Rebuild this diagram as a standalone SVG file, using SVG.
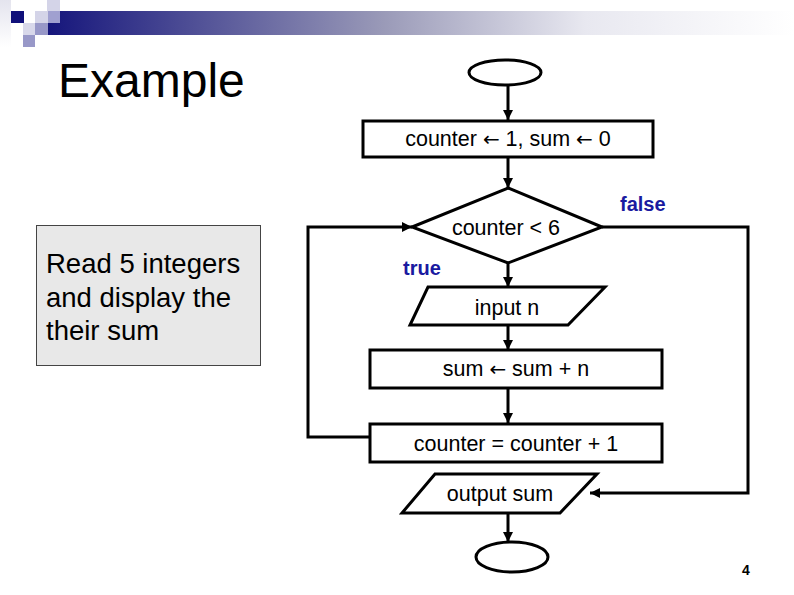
<svg xmlns="http://www.w3.org/2000/svg" width="794" height="595" viewBox="0 0 794 595">
<defs>
<linearGradient id="bar" x1="48" y1="0" x2="794" y2="0" gradientUnits="userSpaceOnUse">
<stop offset="0" stop-color="#16167c"/>
<stop offset="0.45" stop-color="#9a9ab8"/>
<stop offset="0.72" stop-color="#e8e8f0"/>
<stop offset="1" stop-color="#ffffff"/>
</linearGradient>
<linearGradient id="edge" x1="0" y1="0" x2="0" y2="1">
<stop offset="0" stop-color="#e4e4ee"/>
<stop offset="1" stop-color="#ffffff"/>
</linearGradient>
<marker id="ah" viewBox="0 0 10 10" refX="10" refY="5" markerWidth="10" markerHeight="10" markerUnits="userSpaceOnUse" orient="auto">
<path d="M0,0 L10,5 L0,10 z" fill="#000"/>
</marker>
<style>
.shape{fill:#fff;stroke:#000;stroke-width:3}
.ln{fill:none;stroke:#000;stroke-width:3}
.t{font-family:"Liberation Sans",Arial,sans-serif;font-size:21.5px;fill:#000;text-anchor:middle}
.ar{font-family:"DejaVu Sans",sans-serif;font-size:20px}
.lbl{font-family:"Liberation Sans",Arial,sans-serif;font-size:20px;font-weight:bold;fill:#1a1aa0}
</style>
</defs>
<rect width="794" height="595" fill="#fff"/>
<g id="decoration">
<rect x="0" y="0" width="11" height="47" fill="url(#edge)"/>
<rect x="48" y="11" width="746" height="24" fill="url(#bar)"/>
<rect x="47" y="0" width="13" height="11" fill="#d4d4e8"/>
<rect x="11" y="11" width="13" height="12" fill="#10107a"/>
<rect x="35" y="11" width="13" height="12" fill="#d4d4e8"/>
<rect x="48" y="11" width="12" height="12" fill="#a0a0d0"/>
<rect x="23" y="23" width="12" height="12" fill="#d8d8ea"/>
<rect x="35" y="23" width="13" height="12" fill="#9898c8"/>
<rect x="23" y="35" width="12" height="12" fill="#9898c8"/>
</g>
<text x="58" y="97" font-family="Liberation Sans,Arial,sans-serif" font-size="48" fill="#000">Example</text>
<g id="note">
<rect x="36.5" y="225.5" width="224" height="140" fill="#e8e8e8" stroke="#444" stroke-width="1"/>
<text font-family="Liberation Sans,Arial,sans-serif" font-size="27.5" fill="#000"><tspan x="46" y="273">Read 5 integers</tspan><tspan x="46" y="306.5">and display the</tspan><tspan x="46" y="340">their sum</tspan></text>
</g>
<g id="connectors">
<line class="ln" x1="508" y1="85" x2="508" y2="120" marker-end="url(#ah)"/>
<line class="ln" x1="508" y1="157" x2="508" y2="188" marker-end="url(#ah)"/>
<line class="ln" x1="508" y1="263" x2="508" y2="287" marker-end="url(#ah)"/>
<line class="ln" x1="508" y1="325" x2="508" y2="350" marker-end="url(#ah)"/>
<line class="ln" x1="508" y1="388" x2="508" y2="423" marker-end="url(#ah)"/>
<line class="ln" x1="508" y1="513" x2="508" y2="542" marker-end="url(#ah)"/>
<polyline class="ln" points="370,437 308,437 308,227 412,227" marker-end="url(#ah)"/>
<polyline class="ln" points="602,227 748,227 748,493 590,493" marker-end="url(#ah)"/>
</g>
<text class="lbl" x="620" y="211">false</text>
<text class="lbl" x="403" y="275">true</text>
<g id="start"><ellipse class="shape" cx="505" cy="72.5" rx="36" ry="12.5"/></g>
<g id="init"><rect class="shape" x="363" y="121" width="290" height="36"/><text class="t" x="508" y="146">counter <tspan class="ar">←</tspan> 1, sum <tspan class="ar">←</tspan> 0</text></g>
<g id="cond"><polygon class="shape" points="508,188 602,227 508,263 412,227"/><text class="t" x="506" y="235">counter &lt; 6</text></g>
<g id="input"><polygon class="shape" points="428,287 605,287 568,325 410,325"/><text class="t" x="507" y="315">input n</text></g>
<g id="add"><rect class="shape" x="370" y="350" width="292" height="38"/><text class="t" x="516" y="376">sum <tspan class="ar">←</tspan> sum + n</text></g>
<g id="incr"><rect class="shape" x="370" y="424" width="292" height="38"/><text class="t" x="516" y="451">counter = counter + 1</text></g>
<g id="output"><polygon class="shape" points="435,474 597,474 560,513 402,513"/><text class="t" x="500" y="501">output sum</text></g>
<g id="end"><ellipse class="shape" cx="512" cy="557" rx="36" ry="15"/></g>
<text x="742" y="575" font-family="Liberation Sans,Arial,sans-serif" font-size="14" font-weight="bold" fill="#000">4</text>
</svg>
